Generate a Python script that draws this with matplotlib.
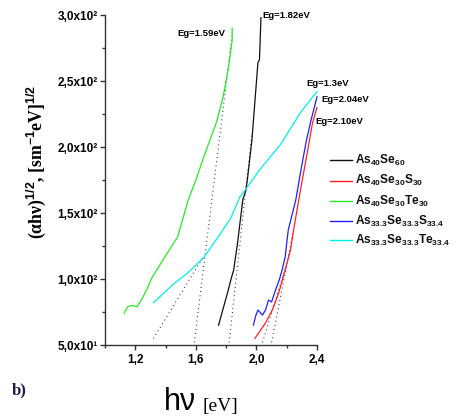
import matplotlib
matplotlib.use("Agg")
import matplotlib.pyplot as plt
from matplotlib.ticker import MultipleLocator, FuncFormatter
from matplotlib.lines import Line2D
import math

plt.rcParams['font.family'] = ['Liberation Sans', 'DejaVu Sans']
plt.rcParams['font.sans-serif'] = ['Liberation Sans']
plt.rcParams['mathtext.fontset'] = 'custom'
plt.rcParams['mathtext.rm'] = 'Liberation Sans:bold'
plt.rcParams['mathtext.bf'] = 'Liberation Sans:bold'
plt.rcParams['mathtext.it'] = 'Liberation Sans:bold'
plt.rcParams['mathtext.default'] = 'bf'

# ---------------- data ----------------
x_as40se60 = [1.75, 1.815, 1.83, 1.85, 1.875, 1.91, 1.93, 1.94, 1.97, 2.01, 2.02, 2.03]
y_as40se60 = [65, 92, 99, 107, 127, 160, 167, 175, 205, 264, 266, 298]

x_as40se30s30 = [1.99, 2.06, 2.105, 2.146, 2.19, 2.225, 2.245, 2.28, 2.29, 2.33, 2.37, 2.40]
y_as40se30s30 = [55, 66.7, 76.5, 89, 107, 122, 137, 160, 167, 192, 218, 230]

x_as40se30te30 = [1.126, 1.15, 1.18, 1.21, 1.24, 1.28, 1.31, 1.38, 1.48, 1.55, 1.60, 1.66, 1.74, 1.78, 1.815, 1.84, 1.84]
y_as40se30te30 = [74, 79, 80, 79, 84, 93, 101, 114, 132, 160, 175, 195, 220, 238, 260, 281, 290]

x_as33s = [1.98, 1.995, 2.01, 2.04, 2.06, 2.08, 2.10, 2.13, 2.15, 2.17, 2.19, 2.21, 2.26, 2.29, 2.33, 2.36, 2.40]
y_as33s = [65, 72, 76.5, 72.7, 76.5, 84, 82.6, 93, 99, 107, 117, 137, 160, 180, 205, 220, 238]

x_as33te = [1.32, 1.45, 1.55, 1.65, 1.76, 1.83, 1.89, 1.93, 2.03, 2.16, 2.29, 2.40]
y_as33te = [82, 96, 105, 116, 134, 146, 162, 168, 184, 202, 226, 242]

# tangent (extrapolation) lines
tan_x = [[1.32, 1.65], [1.59, 1.84], [1.82, 1.97], [2.04, 2.21], [2.10, 2.245]]
tan_y = [[55, 117], [52, 285], [52, 210], [52, 115], [52, 137]]

eg_labels = ["Eg=1.59eV", "Eg=1.82eV", "Eg=1.3eV", "Eg=2.04eV", "Eg=2.10eV"]

legend_labels = ["As$_{40}$Se$_{60}$",
                 "As$_{40}$Se$_{30}$S$_{30}$",
                 "As$_{40}$Se$_{30}$Te$_{30}$",
                 "As$_{33.3}$Se$_{33.3}$S$_{33.4}$",
                 "As$_{33.3}$Se$_{33.3}$Te$_{33.4}$"]
colors = ["#111111", "#ff2020", "#22ee22", "#2020ff", "#00f0f0"]

x_ticks = [1.2, 1.6, 2.0, 2.4]
y_ticks = [50, 100, 150, 200, 250, 300]

# ---------------- figure ----------------
W, H = 457, 417
fig = plt.figure(figsize=(W / 100, H / 100), dpi=100)

def fx(px):
    return px / W

def fy(py):
    return 1 - py / H

ax = fig.add_axes([fx(105), fy(345), fx(317) - fx(105), fy(15) - fy(345)])
ax.set_xlim(1.0, 2.4)
ax.set_ylim(50, 300)

for s in ['top', 'right']:
    ax.spines[s].set_visible(False)
for s in ['left', 'bottom']:
    ax.spines[s].set_linewidth(1.0)
    ax.spines[s].set_color('#333333')

ax.set_xticks(x_ticks)
ax.set_yticks(y_ticks)
ax.xaxis.set_minor_locator(MultipleLocator(0.2))
ax.yaxis.set_minor_locator(MultipleLocator(25))
ax.tick_params(which='major', direction='out', length=3.5, width=1, color='#333333')
ax.tick_params(which='minor', direction='out', length=2, width=1, color='#333333')

SUP = {1: "\u00b9", 2: "\u00b2", 3: "\u00b3"}

def yfmt(v, pos):
    e = int(math.floor(math.log10(v)))
    m = v / 10 ** e
    return ("%.1f" % m).replace('.', ',') + "x10" + SUP.get(e, str(e))

def xfmt(v, pos):
    return ("%.1f" % v).replace('.', ',')

ax.yaxis.set_major_formatter(FuncFormatter(yfmt))
ax.xaxis.set_major_formatter(FuncFormatter(xfmt))
for lab in ax.get_yticklabels():
    lab.set_fontsize(8.5)
    lab.set_fontweight('bold')
for lab in ax.get_xticklabels():
    lab.set_fontsize(8.5)
    lab.set_fontweight('bold')
ax.tick_params(axis='y', pad=1.5)
ax.tick_params(axis='x', pad=3)

# tangent lines
for tx, ty in zip(tan_x, tan_y):
    ax.plot(tx, ty, color='#222222', lw=0.8, ls=(0, (0.8, 3)))

series = [(x_as40se60, y_as40se60), (x_as40se30s30, y_as40se30s30),
          (x_as40se30te30, y_as40se30te30), (x_as33s, y_as33s), (x_as33te, y_as33te)]
for (xs, ys), c in zip(series, colors):
    ax.plot(xs, ys, color=c, lw=0.9, clip_on=False)

# Eg labels
eg_pos = [(177, 33), (262, 16), (306, 83), (321, 99), (315, 121)]
for t, (px, py) in zip(eg_labels, eg_pos):
    fig.text(fx(px), fy(py), t, fontsize=6.8, fontweight='bold', ha='left', va='center')

# legend (manual)
rows = [160, 180.5, 201, 221, 240]
for lab, c, py in zip(legend_labels, colors, rows):
    fig.add_artist(Line2D([fx(330), fx(352)], [fy(py), fy(py)], color=c, lw=1.0))
    fig.text(fx(355), fy(py), lab, fontsize=8.6, fontweight='bold', ha='left', va='center',
             color='#111111')

# axis labels
fig.text(fx(36), fy(162), r"(αhν)$^{1/2}$, [sm$^{-1}$eV]$^{1/2}$",
         rotation=90, ha='center', va='center', fontsize=12.8, fontweight='bold',
         family=['Liberation Serif', 'DejaVu Serif'])
fig.text(fx(164), fy(410), "hν", fontsize=22, ha='left', va='baseline',
         family=['Liberation Sans', 'DejaVu Sans'])
fig.text(fx(202), fy(411), "[eV]", fontsize=14, ha='left', va='baseline',
         family=['Liberation Serif', 'DejaVu Serif'])
fig.text(fx(12), fy(390), "b)", fontsize=12, fontweight='bold', ha='left', va='center',
         family=['Liberation Serif', 'DejaVu Serif'], color='#1c1c48')

fig.savefig("out.png", dpi=100)
